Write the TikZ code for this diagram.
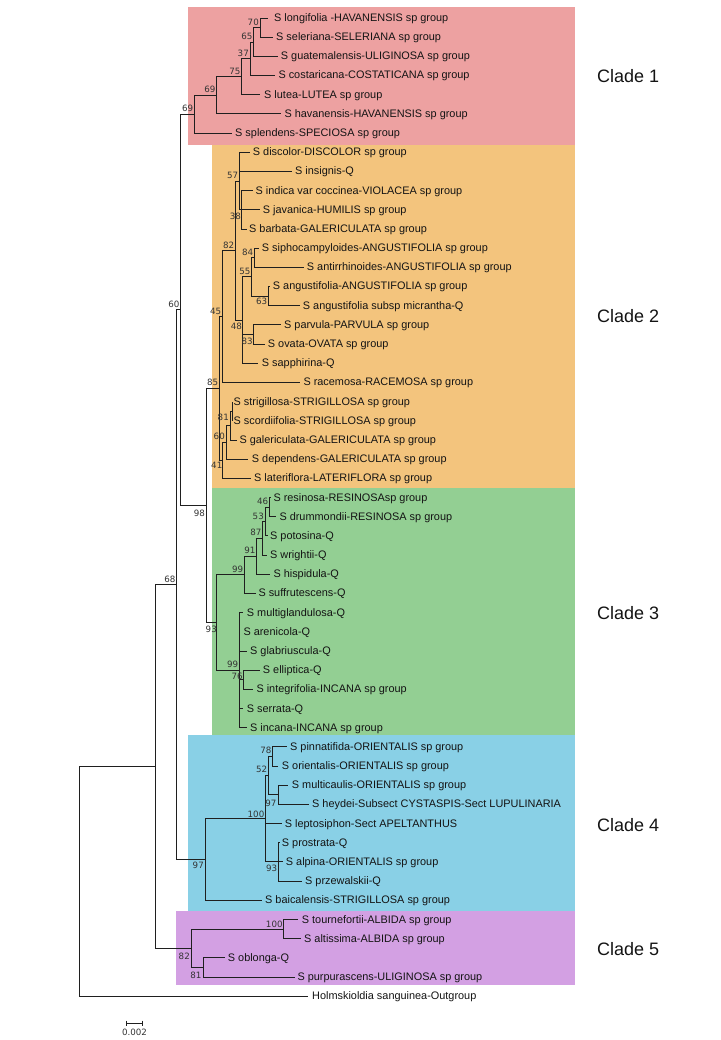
\documentclass[tikz,border=0pt]{standalone}
\usepackage{fontspec}
\setmainfont{Liberation Sans}
\newfontfamily\bootfont{DejaVu Sans}
\definecolor{cladeA}{RGB}{237,161,161}
\definecolor{cladeB}{RGB}{243,196,125}
\definecolor{cladeC}{RGB}{147,207,147}
\definecolor{cladeD}{RGB}{137,208,230}
\definecolor{cladeE}{RGB}{211,160,227}
\begin{document}
\begin{tikzpicture}[x=1pt,y=-1pt,
  branch/.style={draw=black!88, line width=0.9pt},
  leaflab/.style={anchor=base west, inner sep=0pt, font=\fontsize{10.9}{12}\selectfont, text=black!92},
  bs/.style={anchor=base east, inner sep=0pt, font=\bootfont\fontsize{8.7}{10}\selectfont, text=black!80},
  cladelab/.style={anchor=west, inner sep=0pt, font=\fontsize{18}{20}\selectfont, text=black!92},
  cladebox/.style={draw=none}]
\useasboundingbox (0,0) rectangle (720,1040);
\fill[white] (0,0) rectangle (720,1040);
% clade boxes
\fill[cladeA] (187.7,6.7) rectangle (575,145);
\fill[cladeB] (211.7,145) rectangle (575,487.5);
\fill[cladeC] (211.7,487.5) rectangle (575,735);
\fill[cladeD] (187.7,735) rectangle (575,911);
\fill[cladeE] (176,911) rectangle (575,985);
\node[cladelab] (c1) at (597,76) {Clade 1};
\node[cladelab] (c2) at (597,316) {Clade 2};
\node[cladelab] (c3) at (597,613) {Clade 3};
\node[cladelab] (c4) at (597,825) {Clade 4};
\node[cladelab] (c5) at (597,949) {Clade 5};
% leaves: index / y / tip x / label x / text
\foreach \i/\y/\tx/\lx/\txt in {
 0/18.0/268.3/274/S longifolia -HAVANENSIS sp group,
 1/37.2/273.3/276/S seleriana-SELERIANA sp group,
 2/56.4/277.7/280.7/S guatemalensis-ULIGINOSA sp group,
 3/75.5/275/278.3/S costaricana-COSTATICANA sp group,
 4/94.7/260/264/S lutea-LUTEA sp group,
 5/113.9/281/284.3/S havanensis-HAVANENSIS sp group,
 6/133.1/231.7/235/S splendens-SPECIOSA sp group,
 7/152.3/250/252.7/S discolor-DISCOLOR sp group,
 8/171.4/291.7/295/S insignis-Q,
 9/190.6/253.3/255.5/S indica var coccinea-VIOLACEA sp group,
 10/209.8/260/262.7/S javanica-HUMILIS sp group,
 11/229.0/246.7/249/S barbata-GALERICULATA sp group,
 12/248.2/259.3/261.7/S siphocampyloides-ANGUSTIFOLIA sp group,
 13/267.3/304/306.7/S antirrhinoides-ANGUSTIFOLIA sp group,
 14/286.5/270/272.7/S angustifolia-ANGUSTIFOLIA sp group,
 15/305.7/300/302.7/S angustifolia subsp micrantha-Q,
 16/324.9/280.7/284/S parvula-PARVULA sp group,
 17/344.1/265/267.7/S ovata-OVATA sp group,
 18/363.2/258.3/261.7/S sapphirina-Q,
 19/382.4/300/303.3/S racemosa-RACEMOSA sp group,
 20/401.6/232.3/233.5/S strigillosa-STRIGILLOSA sp group,
 21/420.8/232.3/233.5/S scordiifolia-STRIGILLOSA sp group,
 22/440.0/236.7/239.3/S galericulata-GALERICULATA sp group,
 23/459.1/248.3/251.7/S dependens-GALERICULATA sp group,
 24/478.3/251/254/S lateriflora-LATERIFLORA sp group,
 25/497.5/271/273.3/S resinosa-RESINOSAsp group,
 26/516.7/276/279.3/S drummondii-RESINOSA sp group,
 27/535.9/268/270/S potosina-Q,
 28/555.1/267.3/270/S wrightii-Q,
 29/574.2/270/273.3/S hispidula-Q,
 30/593.4/255.7/258.3/S suffrutescens-Q,
 31/612.6/243.3/246.7/S multiglandulosa-Q,
 32/631.8/239.3/243.3/S arenicola-Q,
 33/651.0/246.7/250/S glabriuscula-Q,
 34/670.1/260/262.7/S elliptica-Q,
 35/689.3/253.3/256.3/S integrifolia-INCANA sp group,
 36/708.5/243.3/246.7/S serrata-Q,
 37/727.7/246.7/250/S incana-INCANA sp group,
 38/746.8/286.7/290/S pinnatifida-ORIENTALIS sp group,
 39/766.0/278.3/281.7/S orientalis-ORIENTALIS sp group,
 40/785.2/288.3/291.7/S multicaulis-ORIENTALIS sp group,
 41/804.4/309.3/312/S heydei-Subsect CYSTASPIS-Sect LUPULINARIA,
 42/823.5/281.7/284.7/S leptosiphon-Sect APELTANTHUS,
 43/842.7/279.5/281.7/S prostrata-Q,
 44/861.9/282.7/285.7/S alpina-ORIENTALIS sp group,
 45/881.1/301.7/305/S przewalskii-Q,
 46/900.3/261.7/265/S baicalensis-STRIGILLOSA sp group,
 47/919.5/298.3/301.7/S tournefortii-ALBIDA sp group,
 48/938.6/300.7/304/S altissima-ALBIDA sp group,
 49/957.8/225/227.7/S oblonga-Q,
 50/977.0/295/297.3/S purpurascens-ULIGINOSA sp group,
 51/996.2/308/312/Holmskioldia sanguinea-Outgroup}{
  \coordinate (t\i) at (\tx,\y);
  \node[leaflab] (l\i) at (\lx,{\y+3.5}) {\txt};
}
% internal nodes
\foreach \n/\x/\y in {n70/260/27.6, n65/253.7/42.0, n37/250/58.8, n75/241.7/76.7,
 n69a/216.7/95.3, n69b/194.3/114.2, n38/241.7/209.8, n57/239.3/181.05,
 n84/254.3/257.75, n63/268.3/296.1, n55/251.7/276.9, n83/253.3/334.5,
 n48/242.7/320.1, n82/235.3/250.6, n45/222.3/316.5, nU/232.3/411.2,
 n81/230/425.6, n60b/226/442.4, n41/222/460.3, n85/219.3/388.4,
 n46/269.3/507.1, n53/265/521.5, n87/262.7/538.3, n91/256.7/556.3,
 n99a/244.3/574.8, n76/243.3/679.7, n99b/239.3/670.2, n93a/216.7/622.5,
 n98/206.7/505.4, n60/180.7/309.8, n78/272.7/756.4, n97a/278.3/794.8,
 n52/268.3/775.6, n93b/278.3/861.9, n100a/265/818.75, n97b/205/859.5,
 n68/176.7/584.7, n100b/283.3/929.1, n81b/203.3/967.4, n82b/191.7/948.2,
 nX/155.7/766.5, root/79.3/881.3}{
  \coordinate (\n) at (\x,\y);
}
% branches
\foreach \p/\c in {n70/t0, n70/t1, n65/n70, n65/t2, n37/n65, n37/t3, n75/n37, n75/t4,
 n69a/n75, n69a/t5, n69b/n69a, n69b/t6,
 n57/t7, n57/t8, n57/n38, n38/t9, n38/t10, n38/t11, n84/t12, n84/t13, n63/t14, n63/t15,
 n55/n84, n55/n63, n83/t16, n83/t17, n48/n55, n48/n83, n48/t18, n82/n57, n82/n48,
 n45/n82, n45/t19, nU/t20, nU/t21, n81/nU, n81/t22, n60b/n81, n60b/t23, n41/n60b, n41/t24,
 n85/n45, n85/n41,
 n46/t25, n46/t26, n53/n46, n53/t27, n87/n53, n87/t28, n91/n87, n91/t29, n99a/n91, n99a/t30,
 n99b/t31, n99b/t32, n99b/t33, n99b/n76, n76/t34, n76/t35, n99b/t36, n99b/t37,
 n93a/n99a, n93a/n99b, n98/n85, n98/n93a, n60/n69b, n60/n98,
 n78/t38, n78/t39, n97a/t40, n97a/t41, n52/n78, n52/n97a, n100a/n52, n100a/t42,
 n93b/t43, n93b/t44, n93b/t45, n100a/n93b, n97b/n100a, n97b/t46, n68/n60, n68/n97b,
 n100b/t47, n100b/t48, n81b/t49, n81b/t50, n82b/n100b, n82b/n81b, nX/n68, nX/n82b,
 root/nX, root/t51}{
  \draw[branch] (\p) |- (\c);
}
% bootstrap labels
\foreach \n/\x/\y/\t in {b70/259/25.1/70, b65/252.7/39.5/65, b37/249/56.3/37, b75/240.7/74.2/75,
 b69a/215.7/92.8/69, b69b/193.3/111.7/69, b60/179.7/307.3/60, b68/175.7/582.2/68,
 b85/218.3/385.9/85, b45/221.3/314/45, b82/234.3/248.1/82, b57/238.3/178.5/57,
 b84/253.3/255.25/84, b55/250.7/274.4/55, b81/229/420/81, b60b/225/439.4/60,
 b46/268.3/504.6/46, b53/264/519/53, b87/261.7/535.8/87, b91/255.7/553.8/91,
 b99a/243.3/572.3/99, b99b/238.3/667.7/99, b76/242.8/679.2/76, b100a/264.5/817.8/100,
 b78/271.7/753.4/78, b52/267.3/772.6/52, b100b/282.8/927.3/100,
 b38/241.2/219.8/38, b48/242.2/329.5/48, b83/252.8/344.8/83, b63/267.3/305/63,
 b41/222.5/468.3/41, b98/205.2/516/98, b93a/217/632.3/93, b97a/276.7/806/97,
 b93b/277.3/871.7/93, b97b/204/868.3/97, b82b/190/959.3/82, b81b/201.7/978.3/81}{
  \node[bs] (\n) at (\x,\y) {\t};
}
% scale bar
\coordinate (sbL) at (126,1023.3);
\coordinate (sbR) at (142.7,1023.3);
\coordinate (sbLt) at (126,1020.7);
\coordinate (sbLb) at (126,1026);
\coordinate (sbRt) at (142.7,1020.7);
\coordinate (sbRb) at (142.7,1026);
\draw[branch, line width=0.8pt] (sbL) -- (sbR);
\draw[branch, line width=0.8pt] (sbLt) -- (sbLb);
\draw[branch, line width=0.8pt] (sbRt) -- (sbRb);
\node[bs, anchor=base] (sbtxt) at (134.5,1035) {0.002};
\end{tikzpicture}
\end{document}
